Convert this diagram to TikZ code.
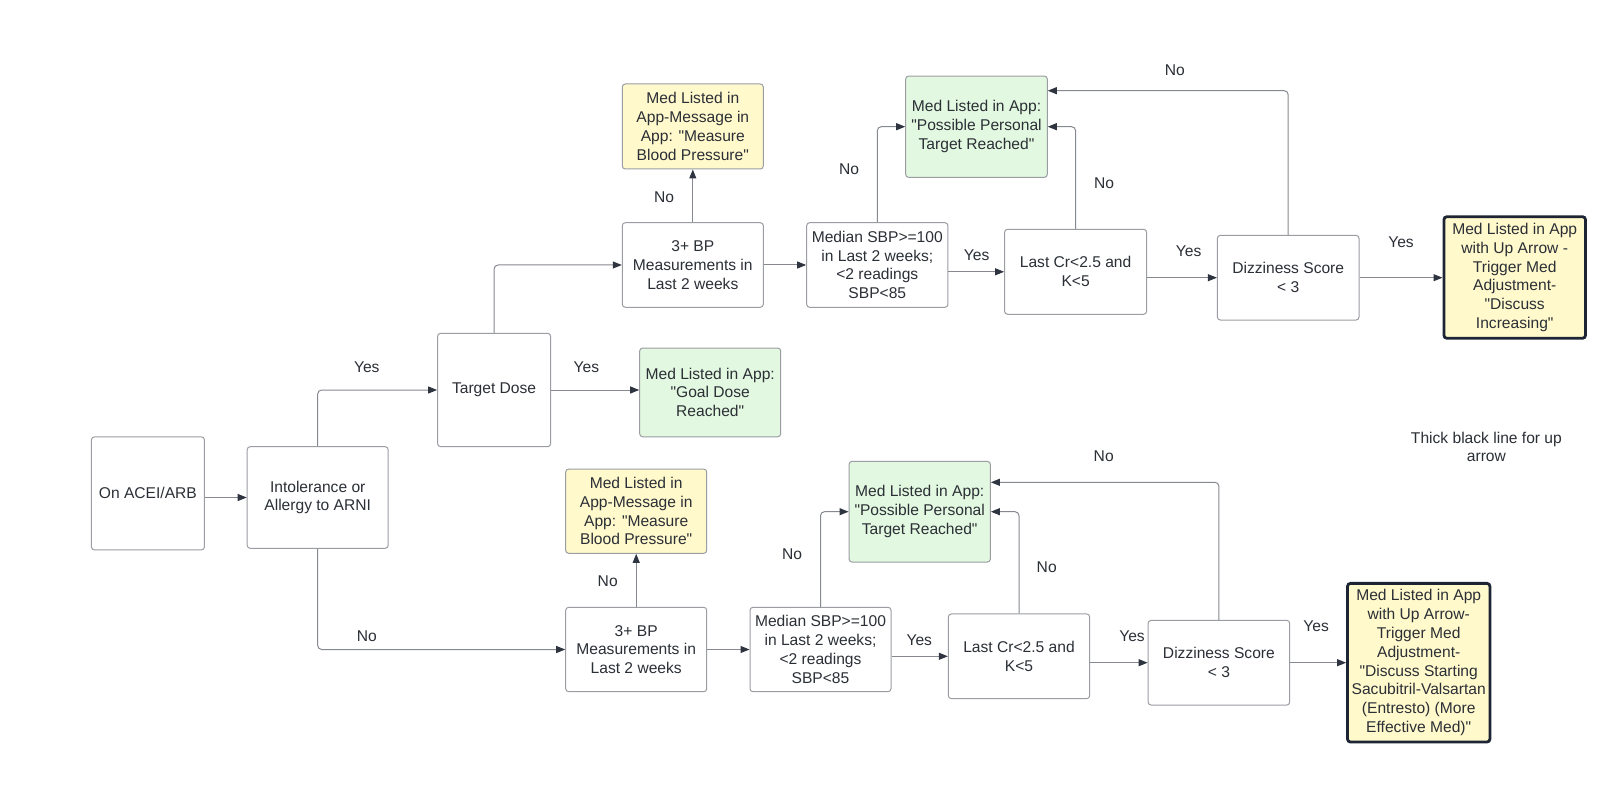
\documentclass[tikz,border=0pt]{standalone}
\usepackage{fontspec}
\setmainfont{Liberation Sans}[Ligatures=TeXOff]
\usetikzlibrary{arrows.meta,calc}
\definecolor{boxline}{HTML}{9A9DA2}
\definecolor{conn}{HTML}{868A90}
\definecolor{tipc}{HTML}{2E3440}
\definecolor{txt}{HTML}{2B2F36}
\definecolor{yel}{HTML}{FFF9CC}
\definecolor{grn}{HTML}{E3F8E0}
\definecolor{thickc}{HTML}{1D2433}
\begin{document}
\begin{tikzpicture}[x=1pt,y=-1pt,
  font=\fontsize{15.6}{18.8}\selectfont, text=txt,
  box/.style={draw=boxline, line width=1pt, rounded corners=3pt, fill=white, align=center, inner sep=0pt},
  ybox/.style={box, fill=yel},
  gbox/.style={box, fill=grn},
  tbox/.style={box, fill=yel, draw=thickc, line width=2.8pt},
  conn/.style={draw=conn, line width=1pt, rounded corners=4pt, -{Triangle[length=9pt,width=7pt,color=tipc]}},
  lab/.style={inner sep=0pt, text=txt}]
\fill[white] (0,0) rectangle (1600,794);
\useasboundingbox (0,0) rectangle (1600,794);

% left
\node[box, minimum width=113pt, minimum height=113pt] (on) at (147.9,493.4) {On ACEI/ARB};
\node[box, minimum width=141pt, minimum height=101.6pt] (intol) at (317.7,497.5) {Intolerance or\\Allergy to ARNI};
\node[box, minimum width=113pt, minimum height=113.4pt] (target) at (494.1,390) {Target Dose};
\node[gbox, minimum width=141pt, minimum height=88.7pt] (goal) at (710.2,392.4) {Med Listed in App:\\"Goal Dose\\Reached"};

% top row
\node[ybox, minimum width=141pt, minimum height=85pt] (yel1) at (692.8,126.5) {Med Listed in\\App-Message in\\App: "Measure\\Blood Pressure"};
\node[box, minimum width=141pt, minimum height=84.6pt] (bp1) at (692.8,265) {3+ BP\\Measurements in\\Last 2 weeks};
\node[box, minimum width=141.3pt, minimum height=84.6pt] (med1) at (877.3,265) {Median SBP>=100\\in Last 2 weeks;\\<2 readings\\SBP<85};
\node[gbox, minimum width=141.6pt, minimum height=101.3pt] (grn1) at (976.5,126.7) {Med Listed in App:\\"Possible Personal\\Target Reached"};
\node[box, minimum width=142pt, minimum height=85pt] (cr1) at (1075.6,271.8) {Last Cr<2.5 and\\K<5};
\node[box, minimum width=141.6pt, minimum height=84.7pt] (diz1) at (1288.2,277.7) {Dizziness Score\\< 3};
\node[tbox, minimum width=141.6pt, minimum height=121.6pt] (fin1) at (1514.7,277.5) {Med Listed in App\\with Up Arrow -\\Trigger Med\\Adjustment-\\"Discuss\\Increasing"};

% bottom row
\node[ybox, minimum width=141pt, minimum height=84.3pt] (yel2) at (636.2,511.2) {Med Listed in\\App-Message in\\App: "Measure\\Blood Pressure"};
\node[box, minimum width=141pt, minimum height=84.4pt] (bp2) at (636.2,649.5) {3+ BP\\Measurements in\\Last 2 weeks};
\node[box, minimum width=141pt, minimum height=84.4pt] (med2) at (820.5,649.5) {Median SBP>=100\\in Last 2 weeks;\\<2 readings\\SBP<85};
\node[gbox, minimum width=141.3pt, minimum height=100.7pt] (grn2) at (919.7,511.7) {Med Listed in App:\\"Possible Personal\\Target Reached"};
\node[box, minimum width=141.3pt, minimum height=84.7pt] (cr2) at (1019,656.3) {Last Cr<2.5 and\\K<5};
\node[box, minimum width=141.6pt, minimum height=84.7pt] (diz2) at (1218.9,662.7) {Dizziness Score\\< 3};
\node[tbox, minimum width=142.4pt, minimum height=158.7pt] (fin2) at (1418.7,662.7) {Med Listed in App\\with Up Arrow-\\Trigger Med\\Adjustment-\\"Discuss Starting\\Sacubitril-Valsartan\\(Entresto) (More\\Effective Med)"};

\node[lab, align=center] (note) at (1486.4,447) {Thick black line for up\\arrow};

% connectors left
\draw[conn] (on.east |- intol.west) -- (intol.west);
\draw[conn] (intol.north) |- (target.west);
\draw[conn] (target.east) -- (target.east -| goal.west);
\draw[conn] (target.north) |- (bp1.west);
\draw[conn] (intol.south) |- (bp2.west);

% top connectors
\draw[conn] (bp1.north) -- (yel1.south);
\draw[conn] (bp1.east) -- (med1.west);
\draw[conn] (med1.north) |- (grn1.west);
\draw[conn] (med1.east |- cr1.west) -- (cr1.west);
\draw[conn] (cr1.north) |- (grn1.east);
\draw[conn] (cr1.east |- diz1.west) -- (diz1.west);
\draw[conn] (diz1.north) |- ([yshift=36pt]grn1.east);
\draw[conn] (diz1.east) -- (diz1.east -| fin1.west);

% bottom connectors
\draw[conn] (bp2.north) -- (yel2.south);
\draw[conn] (bp2.east) -- (med2.west);
\draw[conn] (med2.north) |- (grn2.west);
\draw[conn] (med2.east |- cr2.west) -- (cr2.west);
\draw[conn] (cr2.north) |- (grn2.east);
\draw[conn] (cr2.east |- diz2.west) -- (diz2.west);
\draw[conn] (diz2.north) |- ([yshift=29.4pt]grn2.east);
\draw[conn] (diz2.east) -- (diz2.east -| fin2.west);

% labels
\node[lab] (l1) at (366.8,367.3) {Yes};
\node[lab] (l2) at (586.4,367.3) {Yes};
\node[lab] (l3) at (366.8,636.3) {No};
\node[lab] (l4) at (664,197.3) {No};
\node[lab] (l5) at (849,169.3) {No};
\node[lab] (l6) at (976.7,255.7) {Yes};
\node[lab] (l7) at (1104,183.3) {No};
\node[lab] (l8) at (1188.7,251) {Yes};
\node[lab] (l9) at (1174.9,70) {No};
\node[lab] (l10) at (1401,242) {Yes};
\node[lab] (l11) at (607.7,581.7) {No};
\node[lab] (l12) at (792,554) {No};
\node[lab] (l13) at (919.3,640) {Yes};
\node[lab] (l14) at (1046.7,567.7) {No};
\node[lab] (l15) at (1132,636.7) {Yes};
\node[lab] (l16) at (1103.7,456.7) {No};
\node[lab] (l17) at (1316.1,626.7) {Yes};
\end{tikzpicture}
\end{document}
